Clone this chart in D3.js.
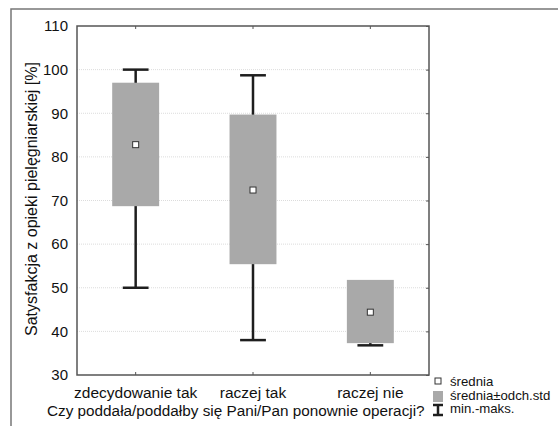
<!DOCTYPE html>
<meta charset="utf-8">
<html>
<head>
<script src="https://cdn.jsdelivr.net/npm/d3@7"></script>
<style>
body { margin:0; background:#fff; }
text { font-family:'Liberation Sans', Arial, sans-serif; fill:#111; }
.grid line { stroke:#dcdcdc; stroke-dasharray:1,1; }
.axis path, .axis line { stroke:#555; }
</style>
</head>
<body>
<div id="chart"></div>
<script>

// data
var categories = ["zdecydowanie tak", "raczej tak", "raczej nie"];
var means = [82.8, 72.4, 44.4];
var sdLow = [68.7, 55.4, 37.3];
var sdHigh = [97.0, 89.7, 51.8];
var minVals = [50, 38, 36.8];
var maxVals = [100, 98.7, 50];
var yTicks = [30, 40, 50, 60, 70, 80, 90, 100, 110];

var W = 558, H = 426;
var margin = {top: 26, right: 129, bottom: 51, left: 77},
    width = W - margin.left - margin.right,
    height = H - margin.top - margin.bottom;

var root = d3.select("#chart").append("svg")
    .attr("width", W)
    .attr("height", H);

// outer frame
root.append("rect")
    .attr("x", 11).attr("y", 9)
    .attr("width", 560).attr("height", 440)
    .attr("fill", "none")
    .attr("stroke", "#777")
    .attr("stroke-width", 1.5);

var svg = root.append("g")
    .attr("transform", "translate(" + margin.left + "," + margin.top + ")");

var x = d3.scaleBand().domain(categories).range([0, width]).padding(0);
var y = d3.scaleLinear().domain([30, 110]).range([height, 0]);

// grid
svg.append("g").attr("class", "grid")
    .selectAll("line")
    .data(yTicks.slice(1, -1))
    .enter().append("line")
    .attr("x1", 0).attr("x2", width)
    .attr("y1", function(d) { return y(d); })
    .attr("y2", function(d) { return y(d); });

// left axis with labels, no ticks
var yl = svg.append("g").attr("class", "axis")
    .call(d3.axisLeft(y).tickValues(yTicks).tickSize(0).tickPadding(9));
yl.select(".domain").remove();
yl.selectAll("text").style("font-size", "15px");

// right ticks (inward)
svg.append("g").attr("class", "axis")
    .attr("transform", "translate(" + width + ",0)")
    .call(d3.axisRight(y).tickValues(yTicks).tickSize(-3).tickFormat(""))
    .select(".domain").remove();

// bottom axis
var xb = svg.append("g").attr("class", "axis")
    .attr("transform", "translate(0," + height + ")")
    .call(d3.axisBottom(x).tickSize(-3).tickPadding(10));
xb.select(".domain").remove();
xb.selectAll("text").style("font-size", "15.5px").attr("y", 12);

// top ticks
svg.append("g").attr("class", "axis")
    .call(d3.axisTop(x).tickSize(-3).tickFormat(""))
    .select(".domain").remove();

var bw = x.bandwidth();
var boxW = bw * 0.4, capW = bw * 0.22;

var groups = svg.selectAll(".cat")
    .data(categories)
    .enter().append("g")
    .attr("transform", function(d) { return "translate(" + (x(d) + bw / 2) + ",0)"; });

// whiskers
groups.append("line")
    .attr("x1", 0).attr("x2", 0)
    .attr("y1", function(d, i) { return y(minVals[i]); })
    .attr("y2", function(d, i) { return y(maxVals[i]); })
    .attr("stroke", "#1e1e1e").attr("stroke-width", 2.5);
groups.append("line")
    .attr("x1", -capW / 2).attr("x2", capW / 2)
    .attr("y1", function(d, i) { return y(minVals[i]); })
    .attr("y2", function(d, i) { return y(minVals[i]); })
    .attr("stroke", "#1e1e1e").attr("stroke-width", 2.5);
groups.append("line")
    .attr("x1", -capW / 2).attr("x2", capW / 2)
    .attr("y1", function(d, i) { return y(maxVals[i]); })
    .attr("y2", function(d, i) { return y(maxVals[i]); })
    .attr("stroke", "#1e1e1e").attr("stroke-width", 2.5);

// sd boxes
groups.append("rect")
    .attr("x", -boxW / 2)
    .attr("width", boxW)
    .attr("y", function(d, i) { return y(sdHigh[i]); })
    .attr("height", function(d, i) { return y(sdLow[i]) - y(sdHigh[i]); })
    .attr("fill", "#a9a9a9");

// means
groups.append("rect")
    .attr("x", -3).attr("width", 6).attr("height", 6)
    .attr("y", function(d, i) { return y(means[i]) - 3; })
    .attr("fill", "#fff").attr("stroke", "#333").attr("stroke-width", 1);

// plot frame
svg.append("rect")
    .attr("width", width).attr("height", height)
    .attr("fill", "none").attr("stroke", "#555").attr("stroke-width", 1.5);

// axis titles
root.append("text")
    .attr("transform", "translate(37,199) rotate(-90)")
    .attr("text-anchor", "middle")
    .style("font-size", "16px")
    .text("Satysfakcja z opieki pielęgniarskiej [%]");

root.append("text")
    .attr("x", 47).attr("y", 416)
    .style("font-size", "15.3px")
    .text("Czy poddała/poddałby się Pani/Pan ponownie operacji?");

// legend
var lg = root.append("g");
lg.append("rect").attr("x", 435).attr("y", 378).attr("width", 6).attr("height", 6)
    .attr("fill", "#fff").attr("stroke", "#333");
lg.append("rect").attr("x", 433).attr("y", 391).attr("width", 10).attr("height", 11)
    .attr("fill", "#a9a9a9");
lg.append("line").attr("x1", 438).attr("x2", 438).attr("y1", 405).attr("y2", 415)
    .attr("stroke", "#1e1e1e").attr("stroke-width", 2.5);
lg.append("line").attr("x1", 433).attr("x2", 443).attr("y1", 405).attr("y2", 405)
    .attr("stroke", "#1e1e1e").attr("stroke-width", 2.5);
lg.append("line").attr("x1", 433).attr("x2", 443).attr("y1", 415).attr("y2", 415)
    .attr("stroke", "#1e1e1e").attr("stroke-width", 2.5);
var legTexts = ["średnia", "średnia±odch.std", "min.-maks."];
lg.selectAll(".lt").data(legTexts).enter().append("text")
    .attr("x", 450)
    .attr("y", function(d, i) { return 386 + i * 13.7; })
    .style("font-size", "13.2px")
    .text(function(d) { return d; });

</script>
</body>
</html>
